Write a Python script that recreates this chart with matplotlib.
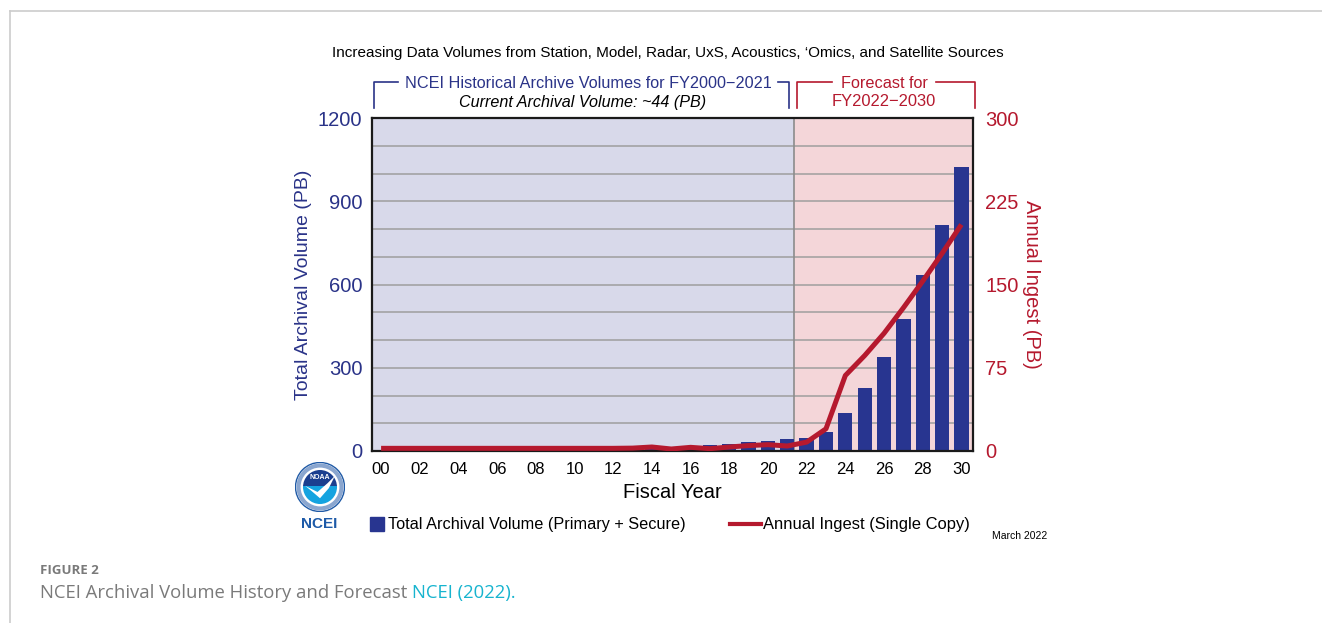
import matplotlib
matplotlib.use("Agg")
import matplotlib.pyplot as plt
from matplotlib.lines import Line2D
from matplotlib.patches import Circle, Wedge, Polygon, Rectangle
import numpy as np

W, H = 1322, 623

# fiscal years 2000-2030
years = list(range(0, 31))
year_labels = ["%02d" % y for y in range(0, 31, 2)]

# total archival volume (PB)
total_volume = [0.3, 0.4, 0.5, 0.6, 0.8, 1.0, 1.2, 1.5, 1.8, 2.2, 2.7, 3.5,
                5, 7, 10, 13, 17, 21, 26, 31, 36, 42,
                47, 69, 137, 227, 339, 475, 634, 815, 1022]

# annual ingest (PB)
annual_ingest = [2.4, 2.4, 2.4, 2.4, 2.4, 2.4, 2.4, 2.4, 2.4, 2.4, 2.4, 2.4,
                 2.4, 2.6, 3.6, 1.8, 3.3, 2.1, 3.6, 4.9, 5.7, 4.5,
                 8, 20, 68, 86, 106, 129, 153, 178, 204]

left_ticks = [0, 300, 600, 900, 1200]
right_ticks = [0, 75, 150, 225, 300]

NAVY = "#2a3388"
RED = "#b5192e"
BAR = "#283590"
FONT = "Liberation Sans"

plt.rcParams['font.family'] = FONT


def fx(x):
    return x / W


def fy(y):
    return 1 - y / H


fig = plt.figure(figsize=(W / 100, H / 100), dpi=100)

# page border lines
fig.add_artist(Line2D([fx(10), 1], [fy(11), fy(11)], color="#cccccc", lw=1.2))
fig.add_artist(Line2D([fx(10), fx(10)], [fy(11), 0], color="#cccccc", lw=1.2))

ax_l, ax_r, ax_t, ax_b = 372, 973, 118, 451
ax = fig.add_axes([fx(ax_l), fy(ax_b), (ax_r - ax_l) / W, (ax_b - ax_t) / H])

split = 21.35
xmin, xmax = -0.47, 30.6
ax.axvspan(xmin, split, color="#d8d9ea", zorder=0, lw=0)
ax.axvspan(split, xmax, color="#f4d6d9", zorder=0, lw=0)
ax.axvline(split, color="#8c8c8c", lw=1.2, zorder=0.6)

ax.bar(years, total_volume, width=0.74, color=BAR, zorder=2)

ax.set_xlim(xmin, xmax)
ax.set_ylim(0, 1200)
ax.set_yticks(left_ticks)
ax.set_yticks(np.arange(0, 1201, 100), minor=True)
ax.grid(True, axis="y", which="both", color="#9e9e9e", lw=1.1, zorder=0.5)
ax.set_axisbelow(True)
ax.set_xticks(years[::2])
ax.set_xticklabels(year_labels)
ax.tick_params(axis="y", which="both", length=0, pad=7, labelsize=14.5, labelcolor=NAVY)
ax.tick_params(axis="x", length=0, pad=8, labelsize=12)
for s in ax.spines.values():
    s.set_linewidth(1.6)
    s.set_color("#1a1a1a")
ax.set_xlabel("Fiscal Year", fontsize=14.5, labelpad=4)
ax.set_ylabel("Total Archival Volume (PB)", fontsize=14, color=NAVY, labelpad=4)

ax2 = ax.twinx()
ax2.plot(years, annual_ingest, color=RED, lw=3.6, zorder=3, solid_capstyle="butt")
ax2.set_ylim(0, 300)
ax2.set_yticks(right_ticks)
ax2.tick_params(axis="y", length=0, pad=9, labelsize=14.5, labelcolor=RED)
for s in ax2.spines.values():
    s.set_visible(False)
ax2.set_ylabel("Annual Ingest (PB)", fontsize=14.5, color=RED, rotation=-90, labelpad=16)

# title and bracket annotations
fig.text(fx(668), fy(53), "Increasing Data Volumes from Station, Model, Radar, UxS, Acoustics, \u2018Omics, and Satellite Sources",
         ha="center", va="center", fontsize=11)

bk_top, bk_bot = 82, 108
for xs, ys in [([374, 374, 398], [bk_bot, bk_top, bk_top]),
               ([778, 789, 789], [bk_top, bk_top, bk_bot])]:
    fig.add_artist(Line2D([fx(v) for v in xs], [fy(v) for v in ys], color=NAVY, lw=1.2))
for xs, ys in [([797, 797, 832], [bk_bot, bk_top, bk_top]),
               ([936, 975, 975], [bk_top, bk_top, bk_bot])]:
    fig.add_artist(Line2D([fx(v) for v in xs], [fy(v) for v in ys], color=RED, lw=1.2))

fig.text(fx(588), fy(83), "NCEI Historical Archive Volumes for FY2000\u22122021",
         ha="center", va="center", fontsize=11.7, color=NAVY)
fig.text(fx(583), fy(102), "Current Archival Volume: ~44 (PB)",
         ha="center", va="center", fontsize=11.6, style="italic", color="black")
fig.text(fx(884), fy(84), "Forecast for", ha="center", va="center", fontsize=11.7, color=RED)
fig.text(fx(884), fy(102), "FY2022\u22122030", ha="center", va="center", fontsize=11.9, color=RED)

# legend
fig.add_artist(Rectangle((fx(370), fy(531)), 14 / W, 14 / H, color=BAR))
fig.text(fx(388), fy(524), "Total Archival Volume (Primary + Secure)", ha="left", va="center", fontsize=11.7)
fig.add_artist(Line2D([fx(730), fx(761)], [fy(524), fy(524)], color=RED, lw=3))
fig.text(fx(763), fy(524), "Annual Ingest (Single Copy)", ha="left", va="center", fontsize=11.9)
fig.text(fx(1020), fy(536), "March 2022", ha="center", va="center", fontsize=7.5)

# NOAA logo (simplified)
lax = fig.add_axes([fx(295), fy(512), 50 / W, 50 / H])
lax.set_xlim(-1, 1)
lax.set_ylim(-1, 1)
lax.set_aspect("equal")
lax.axis("off")
lax.add_patch(Circle((0, 0), 0.98, facecolor="white", edgecolor="#1f5aa6", lw=1))
lax.add_patch(Circle((0, 0), 0.86, facecolor="none", edgecolor="#8aa6cf", lw=3))
lax.add_patch(Wedge((0, 0), 0.68, 0, 180, facecolor="#1b3f8f"))
lax.add_patch(Wedge((0, 0), 0.68, 180, 360, facecolor="#14a3e0"))
lax.add_patch(Rectangle((-0.68, -0.05), 1.36, 0.1, facecolor="#14a3e0"))
lax.add_patch(Polygon([(-0.6, 0.05), (-0.1, -0.2), (0.3, 0.15), (0.6, 0.45),
                       (0.35, -0.05), (0.0, -0.45), (-0.35, -0.15)], facecolor="white"))
lax.text(0, 0.38, "NOAA", ha="center", va="center", fontsize=5, color="white", weight="bold")
fig.text(fx(319), fy(524), "NCEI", ha="center", va="center", fontsize=11, weight="bold", color="#1d5aa8")

# caption
fig.text(fx(40), fy(570), "FIGURE 2", ha="left", va="center", fontsize=9.5, weight="bold",
         color="#7a7a7a", family="Open Sans")
t = fig.text(fx(40), fy(593), "NCEI Archival Volume History and Forecast ", ha="left", va="center",
             fontsize=13.3, color="#7a7a7a", family="Open Sans")
fig.canvas.draw()
bb = t.get_window_extent()
fig.text(bb.x1 / W, fy(593), "NCEI (2022).", ha="left", va="center", fontsize=13.3,
         color="#17b4cf", family="Open Sans")

fig.savefig("out.png", dpi=100)
